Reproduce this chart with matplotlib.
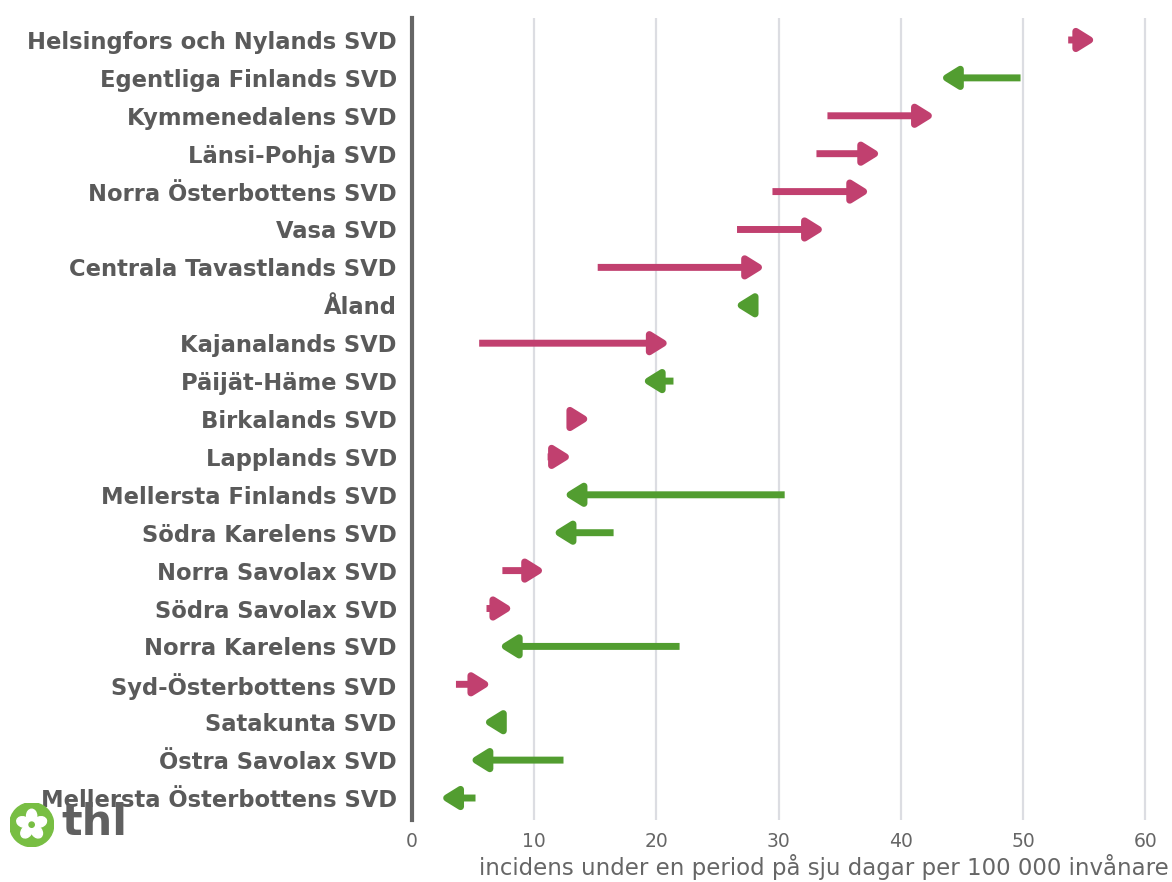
import numpy as np
import matplotlib.pyplot as plt
from matplotlib.patches import Circle, Ellipse

# ===== Data =====
regions = [
    'Helsingfors och Nylands SVD', 'Egentliga Finlands SVD', 'Kymmenedalens SVD',
    'Länsi-Pohja SVD', 'Norra Österbottens SVD', 'Vasa SVD',
    'Centrala Tavastlands SVD', 'Åland', 'Kajanalands SVD', 'Päijät-Häme SVD',
    'Birkalands SVD', 'Lapplands SVD', 'Mellersta Finlands SVD',
    'Södra Karelens SVD', 'Norra Savolax SVD', 'Södra Savolax SVD',
    'Norra Karelens SVD', 'Syd-Österbottens SVD', 'Satakunta SVD',
    'Östra Savolax SVD', 'Mellersta Österbottens SVD',
]
previous = [53.7, 49.8, 34.0, 33.1, 29.5, 26.6, 15.2, 28.0, 5.5, 21.4,
            13.4, 11.1, 30.5, 16.5, 7.4, 6.1, 21.9, 3.6, 7.2, 12.4, 5.2]
current = [56.0, 43.2, 42.8, 38.4, 37.5, 33.8, 28.9, 26.4, 21.1, 18.8,
           14.6, 13.1, 12.4, 11.5, 10.9, 8.3, 7.1, 6.5, 5.8, 4.7, 2.3]
xticks = [0, 10, 20, 30, 40, 50, 60]
xlabel = 'incidens under en period på sju dagar per 100 000 invånare'

up_color = '#c1406f'
down_color = '#529d30'
text_color = '#5a5a5a'

# ===== Plot =====
fig = plt.figure(figsize=(11.72, 8.82), dpi=100)
ax = fig.add_axes([0.3515, 0.0703, 0.635, 0.9093])

for i, (p, c) in enumerate(zip(previous, current)):
    col = up_color if c > p else down_color
    ax.annotate('', xy=(c, i), xytext=(p, i),
                arrowprops=dict(arrowstyle='-|>,head_length=1.0,head_width=0.62',
                                lw=5, color=col, shrinkA=0, shrinkB=0,
                                joinstyle='round', capstyle='butt',
                                mutation_scale=10))

ax.set_xlim(0, 60.9)
ax.set_ylim(len(regions) - 1 + 0.58, -0.58)
ax.set_yticks(range(len(regions)))
ax.set_yticklabels(regions, fontsize=16.3, fontweight='bold', color=text_color)
ax.set_xticks(xticks)
ax.set_xticklabels([str(t) for t in xticks], fontsize=13.5, color='#666666')
ax.tick_params(axis='both', length=0)
ax.tick_params(axis='y', pad=11)
ax.tick_params(axis='x', pad=9)
ax.grid(axis='x', color='#dcdde2', lw=1.6)
ax.set_axisbelow(True)
for s in ['top', 'right', 'bottom']:
    ax.spines[s].set_visible(False)
ax.spines['left'].set_color('#666666')
ax.spines['left'].set_linewidth(3)
ax.spines['left'].set_zorder(5)

fig.text(0.997, 0.002, xlabel, ha='right', va='bottom', fontsize=16.5, color='#666666')

# thl logo
logo = fig.add_axes([0.008, 0.04, 0.038, 0.05])
logo.set_xlim(-1, 1)
logo.set_ylim(-1, 1)
logo.set_aspect('equal')
logo.axis('off')
logo.add_patch(Circle((0, 0), 1, color='#78be43'))
for k in range(5):
    a = np.deg2rad(90 + k * 72)
    logo.add_patch(Ellipse((0.4 * np.cos(a), 0.4 * np.sin(a)), 0.6, 0.46,
                           angle=np.rad2deg(a), color='white'))
logo.add_patch(Circle((0, 0), 0.12, color='#78be43'))
fig.text(0.052, 0.043, 'thl', fontsize=31, fontweight='heavy', color='#606060',
         va='bottom', ha='left')

plt.savefig('out.png', dpi=100)
